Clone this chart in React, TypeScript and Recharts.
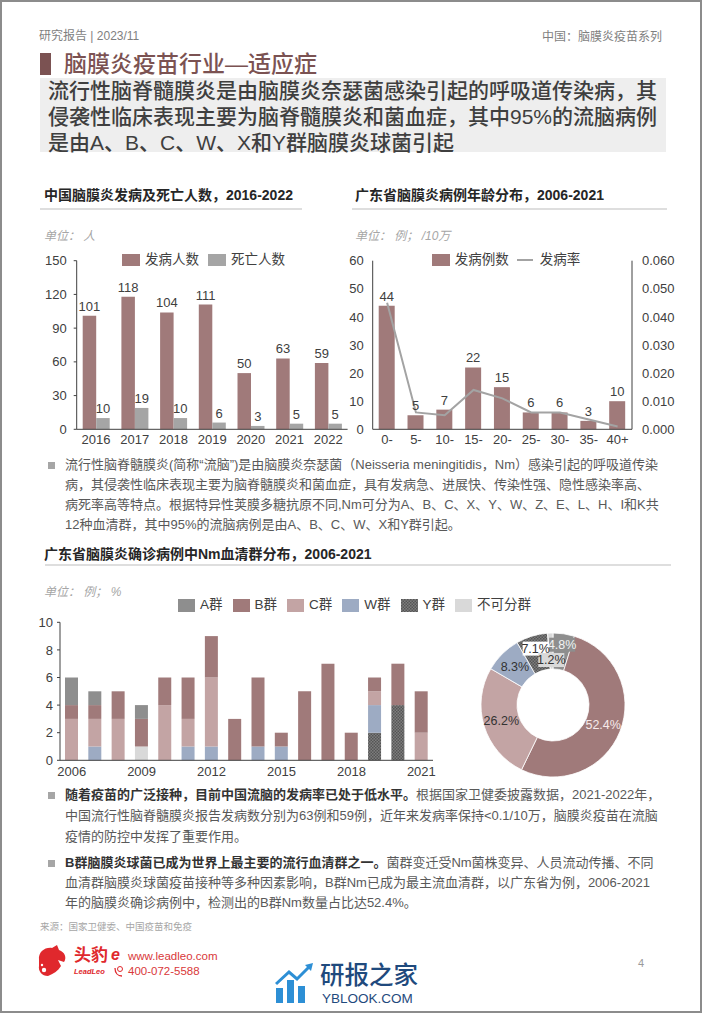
import React from 'react';
import {
  BarChart, Bar, ComposedChart, Line, XAxis, YAxis, LabelList, Legend, PieChart, Pie, Cell,
} from 'recharts';

const SANS = '"Liberation Sans", "Noto Sans CJK SC", sans-serif';

// 中国脑膜炎发病及死亡人数，2016-2022
const years = ['2016', '2017', '2018', '2019', '2020', '2021', '2022'];
const cases = [101, 118, 104, 111, 50, 63, 59];
const deaths = [10, 19, 10, 6, 3, 5, 5];
const countTicks = [0, 30, 60, 90, 120, 150];

// 广东省脑膜炎病例年龄分布，2006-2021
const ageGroups = ['0-', '5-', '10-', '15-', '20-', '25-', '30-', '35-', '40+'];
const ageCases = [44, 5, 7, 22, 15, 6, 6, 3, 10];
const ageRate = [0.045, 0.006, 0.005, 0.014, 0.011, 0.006, 0.006, 0.0035, 0.001];
const ageTicks = [0, 10, 20, 30, 40, 50, 60];
const rateTicks = [0, 0.01, 0.02, 0.03, 0.04, 0.05, 0.06];

// 广东省脑膜炎确诊病例中Nm血清群分布，2006-2021
const nmYears = ['2006', '2007', '2008', '2009', '2010', '2011', '2012', '2013',
  '2014', '2015', '2016', '2017', '2018', '2019', '2020', '2021'];
const groupA = [2, 1, 0, 1, 0, 0, 0, 0, 0, 0, 0, 0, 0, 0, 0, 0];
const groupB = [1, 1, 2, 2, 2, 3, 3, 3, 5, 1, 5, 7, 2, 1, 3, 3];
const groupC = [3, 2, 3, 0, 4, 2, 5, 0, 0, 0, 0, 0, 0, 1, 0, 2];
const groupW = [0, 1, 0, 0, 0, 1, 1, 0, 1, 1, 0, 0, 0, 2, 0, 0];
const groupY = [0, 0, 0, 0, 0, 0, 0, 0, 0, 0, 0, 0, 0, 2, 4, 0];
const groupU = [0, 0, 0, 1, 0, 0, 0, 0, 0, 0, 0, 0, 0, 0, 0, 0];
const nmTicks = [0, 2, 4, 6, 8, 10];
const groupNames = ['A群', 'B群', 'C群', 'W群', 'Y群', '不可分群'];
const groupShares = [4.8, 52.4, 26.2, 8.3, 7.1, 1.2];

const MAROON = '#a07a7a';
const DEATH_GRAY = '#a5a5a5';
const AXIS = '#404040';
const groupKeys = ['A', 'B', 'C', 'W', 'Y', 'U'];
const groupColors = ['#8e8e8e', MAROON, '#c3a4a4', '#9dabc3', 'url(#yPat)', '#d9d9d9'];
const stackOrder = [4, 3, 5, 2, 1, 0]; // bottom to top

const countData = years.map((y, i) => ({ year: y, cases: cases[i], deaths: deaths[i] }));
const ageData = ageGroups.map((g, i) => ({ age: g, cases: ageCases[i], rate: ageRate[i] }));
const nmData = nmYears.map((y, i) => ({
  year: y, A: groupA[i], B: groupB[i], C: groupC[i], W: groupW[i], Y: groupY[i], U: groupU[i],
}));
const pieData = groupNames.map((n, i) => ({ name: n, share: groupShares[i] }));

const legendContent = (order: string[], gap: number, iw: number, ih: number) => (props: any) => {
  const items = [...(props.payload || [])].sort(
    (a: any, b: any) => order.indexOf(a.value) - order.indexOf(b.value),
  );
  return (
    <div style={{ display: 'flex', alignItems: 'center', whiteSpace: 'nowrap', fontFamily: SANS, fontSize: 13.5, color: AXIS, lineHeight: '16px' }}>
      {items.map((it: any) => (
        <span key={it.value} style={{ display: 'inline-flex', alignItems: 'center', marginRight: gap, flexShrink: 0 }}>
          <svg width={iw} height={ih} style={{ marginRight: 5, flexShrink: 0 }}>
            {it.type === 'line'
              ? <line x1={0} y1={ih / 2} x2={iw - 2} y2={ih / 2} stroke={it.color} strokeWidth={2} />
              : <rect x={0} y={0} width={iw} height={ih} fill={it.color} />}
          </svg>
          {it.value}
        </span>
      ))}
    </div>
  );
};

const RAD = Math.PI / 180;
const pieLabelR = [61, 54, 54, 54, 59, 45];
const pieLabelFill = ['#f2f2f2', '#f7eaea', '#333333', '#333333', '#333333', '#333333'];
const pieLabelBg = ['#8e8e8e', '', '', '', '#ffffff', '#d9d9d9'];

const renderPieLabel = (p: any) => {
  const r = pieLabelR[p.index];
  const x = p.cx + r * Math.cos(-p.midAngle * RAD);
  const y = p.cy + r * Math.sin(-p.midAngle * RAD);
  const bg = pieLabelBg[p.index];
  return (
    <g key={`pl-${p.index}`}>
      {bg ? <rect x={x - 13} y={y - 7} width={26} height={14} fill={bg} /> : null}
      <text x={x} y={y} textAnchor="middle" dominantBaseline="central" fill={pieLabelFill[p.index]} fontSize={12.5} fontFamily={SANS}>
        {`${Number(p.value).toFixed(1)}%`}
      </text>
    </g>
  );
};

const Txt = ({ x, y, size, color = '#595959', weight = 400, italic = false, right, children, font = SANS, spacing = 0, lh = 1.15 }: any) => (
  <div style={{
    position: 'absolute', left: right === undefined ? x : undefined, right, top: y - (size * lh) / 2,
    fontSize: size, lineHeight: `${size * lh}px`, color, fontWeight: weight, fontStyle: italic ? 'italic' : 'normal',
    whiteSpace: 'nowrap', fontFamily: font, letterSpacing: spacing,
  }}>{children}</div>
);

const Rule = ({ x, y, w }: any) => (
  <div style={{ position: 'absolute', left: x, top: y, width: w, height: 1.5, background: '#dedede' }} />
);

const Bullet = ({ y }: any) => (
  <div style={{ position: 'absolute', left: 48, top: y - 3.5, width: 7, height: 7, background: '#a6a6a6' }} />
);

const B = ({ children }: any) => <span style={{ fontWeight: 700, color: '#333333' }}>{children}</span>;

export default function App() {
  const tickStyle = { fill: AXIS, fontSize: 13 };
  return (
    <div style={{ position: 'relative', width: 702, height: 1013, background: '#ffffff', fontFamily: SANS, overflow: 'hidden' }}>
      <style>{'body{margin:0}'}</style>

      {/* header */}
      <Txt x={39} y={37} size={12} color="#7f7f7f">研究报告 | 2023/11</Txt>
      <Txt right={40} y={38} size={12} color="#7f7f7f">中国：脑膜炎疫苗系列</Txt>
      <div style={{ position: 'absolute', left: 40, top: 53, width: 11, height: 22, background: '#7b5252' }} />
      <Txt x={64} y={64} size={23} color="#7b5252" weight={500}>脑膜炎疫苗行业—适应症</Txt>
      <div style={{ position: 'absolute', left: 40, top: 78, width: 626, height: 74, background: '#eeeeee' }} />
      <Txt x={48} y={91} size={21} color="#3f3f3f" weight={500}>流行性脑脊髓膜炎是由脑膜炎奈瑟菌感染引起的呼吸道传染病，其</Txt>
      <Txt x={48} y={117} size={21} color="#3f3f3f" weight={500}>侵袭性临床表现主要为脑脊髓膜炎和菌血症，其中95%的流脑病例</Txt>
      <Txt x={48} y={143} size={21} color="#3f3f3f" weight={500}>是由A、B、C、W、X和Y群脑膜炎球菌引起</Txt>

      {/* chart 1 */}
      <Txt x={44} y={195} size={14} color="#262626" weight={700}>中国脑膜炎发病及死亡人数，2016-2022</Txt>
      <Rule x={40} y={208} w={262} />
      <Txt x={44} y={237} size={12} color="#a6a6a6" italic>单位：  人</Txt>
      <div style={{ position: 'absolute', left: 30, top: 245 }}>
        <BarChart width={322} height={205} data={countData} margin={{ top: 15.7, right: 4.4, left: 0, bottom: 0 }} barGap={0}>
          <XAxis dataKey="year" height={20.7} tickLine={false} axisLine={{ stroke: AXIS }} tickSize={0} tickMargin={5} tick={tickStyle} interval={0} />
          <YAxis domain={[0, 150]} ticks={countTicks} interval={0} width={46.7} axisLine={{ stroke: AXIS }} tickLine={{ stroke: AXIS }} tickSize={3} tickMargin={7} tick={tickStyle} />
          <Legend verticalAlign="middle" align="center" wrapperStyle={{ top: 7, left: 92, width: 'auto' }} content={legendContent(['发病人数', '死亡人数'], 9, 18, 12)} />
          <Bar dataKey="cases" name="发病人数" fill={MAROON} barSize={13.5} isAnimationActive={false}>
            <LabelList dataKey="cases" position="top" fill={AXIS} fontSize={13} />
          </Bar>
          <Bar dataKey="deaths" name="死亡人数" fill={DEATH_GRAY} barSize={13.5} isAnimationActive={false}>
            <LabelList dataKey="deaths" position="top" fill={AXIS} fontSize={13} />
          </Bar>
        </BarChart>
      </div>

      {/* chart 2 */}
      <Txt x={355} y={195} size={14} color="#262626" weight={700}>广东省脑膜炎病例年龄分布，2006-2021</Txt>
      <Rule x={352} y={208} w={315} />
      <Txt x={355} y={237} size={12} color="#a6a6a6" italic>单位：  例；  /10万</Txt>
      <div style={{ position: 'absolute', left: 340, top: 245 }}>
        <ComposedChart width={345} height={205} data={ageData} margin={{ top: 15.7, right: 0, left: 0, bottom: 0 }}>
          <XAxis dataKey="age" height={20.7} tickLine={false} axisLine={{ stroke: AXIS }} tickSize={0} tickMargin={5} tick={tickStyle} interval={0} />
          <YAxis yAxisId="l" domain={[0, 60]} ticks={ageTicks} interval={0} width={32.7} axisLine={{ stroke: AXIS }} tickLine={false} tickSize={0} tickMargin={9} tick={tickStyle} />
          <YAxis yAxisId="r" orientation="right" domain={[0, 0.06]} ticks={rateTicks} interval={0} width={53} axisLine={{ stroke: AXIS }} tickLine={false} tickSize={0} tickMargin={10} tick={tickStyle} tickFormatter={(v: number) => v.toFixed(3)} />
          <Legend verticalAlign="middle" align="center" wrapperStyle={{ top: 7, left: 91.7, width: 'auto' }} content={legendContent(['发病例数', '发病率'], 8, 18, 12)} />
          <Bar yAxisId="l" dataKey="cases" name="发病例数" fill={MAROON} barSize={16} isAnimationActive={false}>
            <LabelList dataKey="cases" position="top" fill={AXIS} fontSize={13} />
          </Bar>
          <Line yAxisId="r" dataKey="rate" name="发病率" type="linear" stroke="#a3a3a3" strokeWidth={2} dot={false} isAnimationActive={false} />
        </ComposedChart>
      </div>

      {/* text block 1 */}
      <Bullet y={465} />
      <Txt x={65} y={465} size={13}>流行性脑脊髓膜炎(简称“流脑”)是由脑膜炎奈瑟菌（Neisseria meningitidis，Nm）感染引起的呼吸道传染</Txt>
      <Txt x={65} y={485} size={13}>病，其侵袭性临床表现主要为脑脊髓膜炎和菌血症，具有发病急、进展快、传染性强、隐性感染率高、</Txt>
      <Txt x={65} y={505} size={13}>病死率高等特点。根据特异性荚膜多糖抗原不同,Nm可分为A、B、C、X、Y、W、Z、E、L、H、I和K共</Txt>
      <Txt x={65} y={525} size={13}>12种血清群，其中95%的流脑病例是由A、B、C、W、X和Y群引起。</Txt>

      {/* chart 3 */}
      <Txt x={44} y={554} size={14} color="#262626" weight={700}>广东省脑膜炎确诊病例中Nm血清群分布，2006-2021</Txt>
      <Rule x={45} y={564} w={626} />
      <Txt x={44} y={593} size={12} color="#a6a6a6" italic>单位：  例；  %</Txt>
      <div style={{ position: 'absolute', left: 30, top: 612 }}>
        <BarChart width={410} height={170} data={nmData} margin={{ top: 10.3, right: 7, left: 0, bottom: 0 }}>
          <defs>
            <pattern id="yPat" width="3" height="3" patternUnits="userSpaceOnUse">
              <rect width="3" height="3" fill="#7d7d7d" />
              <rect width="1.5" height="1.5" fill="#555555" />
              <rect x="1.5" y="1.5" width="1.5" height="1.5" fill="#555555" />
            </pattern>
          </defs>
          <XAxis dataKey="year" height={21.7} tickLine={false} axisLine={{ stroke: AXIS }} tickSize={0} tickMargin={6} tick={tickStyle} interval={2} />
          <YAxis domain={[0, 10]} ticks={nmTicks} interval={0} width={30} axisLine={{ stroke: AXIS }} tickLine={{ stroke: AXIS }} tickSize={3} tickMargin={4} tick={tickStyle} />
          <Legend verticalAlign="middle" align="center" wrapperStyle={{ top: -15, left: 148, width: 400 }} content={legendContent(groupNames, 10, 17, 13)} />
          {stackOrder.map((gi) => (
            <Bar key={groupKeys[gi]} dataKey={groupKeys[gi]} name={groupNames[gi]} stackId="nm" fill={groupColors[gi]} barSize={13} isAnimationActive={false} />
          ))}
        </BarChart>
      </div>
      <div style={{ position: 'absolute', left: 468, top: 620 }}>
        <PieChart width={160} height={160}>
          <Pie data={pieData} dataKey="share" nameKey="name" cx={80} cy={80} innerRadius={36} outerRadius={72}
            startAngle={90} endAngle={-270} stroke="#ffffff" strokeWidth={0.8}
            label={renderPieLabel} labelLine={false} isAnimationActive={false}>
            {pieData.map((d, i) => <Cell key={d.name} fill={groupColors[i]} />)}
          </Pie>
        </PieChart>
      </div>

      {/* text block 2 */}
      <Bullet y={795} />
      <Txt x={65} y={795} size={13}><B>随着疫苗的广泛接种，目前中国流脑的发病率已处于低水平。</B>根据国家卫健委披露数据，2021-2022年，</Txt>
      <Txt x={65} y={816} size={13}>中国流行性脑脊髓膜炎报告发病数分别为63例和59例，近年来发病率保持&lt;0.1/10万，脑膜炎疫苗在流脑</Txt>
      <Txt x={65} y={837} size={13}>疫情的防控中发挥了重要作用。</Txt>
      <Bullet y={863} />
      <Txt x={65} y={863} size={13}><B>B群脑膜炎球菌已成为世界上最主要的流行血清群之一。</B>菌群变迁受Nm菌株变异、人员流动传播、不同</Txt>
      <Txt x={65} y={883} size={13}>血清群脑膜炎球菌疫苗接种等多种因素影响，B群Nm已成为最主流血清群，以广东省为例，2006-2021</Txt>
      <Txt x={65} y={903} size={13}>年的脑膜炎确诊病例中，检测出的B群Nm数量占比达52.4%。</Txt>

      {/* footer */}
      <Txt x={40} y={927} size={9.5} color="#a6a6a6">来源：国家卫健委、中国疫苗和免疫</Txt>
      <svg style={{ position: 'absolute', left: 36, top: 945 }} width={32} height={34} viewBox="0 0 32 34">
        <path d="M3 15 C2 7 9 2 16 3 L21 0 L23 5 C29 7 31 13 28 17 L22 15 L25 21 C22 26 17 29 12 31 C6 31 2 26 3 21 Z" fill="#e0282d" />
        <circle cx={8} cy={25} r={2.2} fill="#ffffff" />
        <circle cx={6} cy={20} r={1.2} fill="#ffffff" />
      </svg>
      <Txt x={74} y={955} size={17} color="#e0282d" weight={700} lh={1}>头豹</Txt>
      <Txt x={74} y={972} size={7.5} color="#e0282d" weight={700} italic lh={1}>LeadLeo</Txt>
      <Txt x={111} y={955} size={16} color="#e0282d" weight={700} italic lh={1}>e</Txt>
      <svg style={{ position: 'absolute', left: 113, top: 965 }} width={12} height={12} viewBox="0 0 12 12">
        <path d="M2 3 C2 8 5 11 9 11" stroke="#e0282d" strokeWidth={1.3} fill="none" />
        <circle cx={7} cy={4} r={2.5} stroke="#e0282d" strokeWidth={1} fill="none" />
      </svg>
      <Txt x={128} y={956} size={11.5} color="#d9383a" lh={1.1}>www.leadleo.com</Txt>
      <Txt x={128} y={971} size={11.5} color="#d9383a" lh={1.1}>400-072-5588</Txt>
      <Txt x={638} y={963} size={11} color="#9a9a9a">4</Txt>

      {/* watermark */}
      <svg style={{ position: 'absolute', left: 275, top: 962 }} width={40} height={42} viewBox="0 0 40 42">
        <rect x={1} y={26} width={7} height={15} fill="#2d8fd5" />
        <rect x={12} y={18} width={7} height={23} fill="#2d8fd5" />
        <rect x={23} y={24} width={7} height={17} fill="#2d8fd5" />
        <path d="M1 22 L14 10 L22 17 L34 5" stroke="#2d8fd5" strokeWidth={3} fill="none" />
        <path d="M30 3 L38 1 L36 9 Z" fill="#2d8fd5" />
      </svg>
      <Txt x={320} y={976} size={24.5} color="#1f4a7d" weight={500} lh={1}>研报之家</Txt>
      <Txt x={322} y={999} size={13.5} color="#1f4a7d" lh={1}>YBLOOK.COM</Txt>

      {/* page frame */}
      <div style={{ position: 'absolute', left: 0, top: 0, width: 702, height: 1013, boxSizing: 'border-box', border: '2px solid #8c8c8c', pointerEvents: 'none' }} />
    </div>
  );
}
